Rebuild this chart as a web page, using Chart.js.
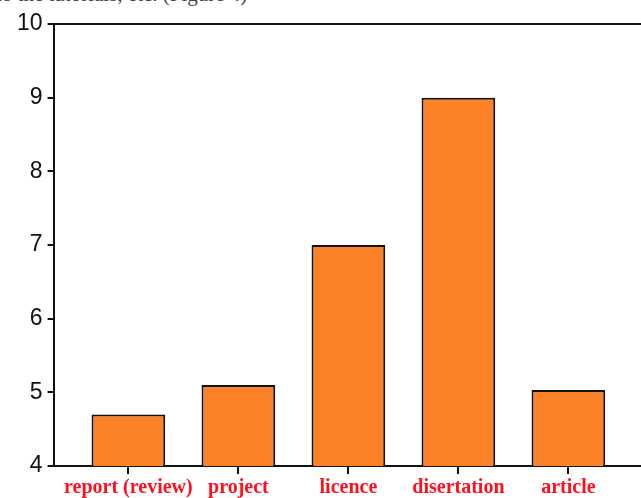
<!DOCTYPE html>
<html>
<head>
<meta charset="utf-8">
<script src="https://cdn.jsdelivr.net/npm/chart.js@4"></script>
<style>
  html, body { margin: 0; padding: 0; background: #fff; overflow: hidden; }
  #wrap { position: relative; width: 641px; height: 498px; }
  #cut { position: absolute; left: -4px; top: -18px; font: 21px "Liberation Serif", serif; color: #444; white-space: nowrap; }
  canvas { position: absolute; left: 0; top: 0; }
</style>
</head>
<body>
<div id="wrap">
  <div id="cut">to the tutorials, etc. (Figure 4)</div>
  <canvas id="myChart" width="641" height="498"></canvas>
</div>
<script>
// categories and mean values
const categories = ["report (review)", "project", "licence", "disertation", "article"];
const values = [4.7, 5.1, 7.0, 9.0, 5.03];
const yTicks = [4, 5, 6, 7, 8, 9, 10];

const ctx = document.getElementById('myChart').getContext('2d');
new Chart(ctx, {
    type: 'bar',
    data: {
        datasets: [{
            data: values.map((v, i) => ({ x: i, y: v })),
            backgroundColor: '#fd8227',
            borderColor: '#111',
            borderWidth: 2,
            borderSkipped: false,
            categoryPercentage: 1,
            barPercentage: 0.67
        }]
    },
    options: {
        responsive: false,
        animation: false,
        layout: { padding: { top: 24, left: 12, right: 0, bottom: -4 } },
        plugins: {
            legend: { display: false },
            tooltip: { enabled: false }
        },
        scales: {
            x: {
                type: 'linear',
                offset: false,
                min: -0.68,
                max: 4.66,
                afterBuildTicks: s => { s.ticks = categories.map((c, i) => ({ value: i })); },
                ticks: {
                    autoSkip: false,
                    maxRotation: 0,
                    padding: 4,
                    color: '#ff1020',
                    font: { family: 'Liberation Serif', size: 20, weight: 'bold', lineHeight: 1 },
                    callback: v => categories[v]
                },
                grid: { offset: false, drawOnChartArea: false, tickLength: 8, tickColor: '#111', lineWidth: 2 },
                border: { color: '#111', width: 2 }
            },
            y: {
                min: 4,
                max: 10,
                afterBuildTicks: s => { s.ticks = yTicks.map(v => ({ value: v })); },
                ticks: {
                    padding: 5,
                    color: '#111',
                    font: { family: 'Liberation Sans', size: 23 }
                },
                grid: {
                    drawOnChartArea: true,
                    color: c => c.tick && c.tick.value === 10 ? '#111' : 'rgba(0,0,0,0)',
                    tickColor: '#111',
                    tickLength: 6,
                    lineWidth: 2
                },
                border: { color: '#111', width: 2 }
            }
        }
    }
});
</script>
</body>
</html>
